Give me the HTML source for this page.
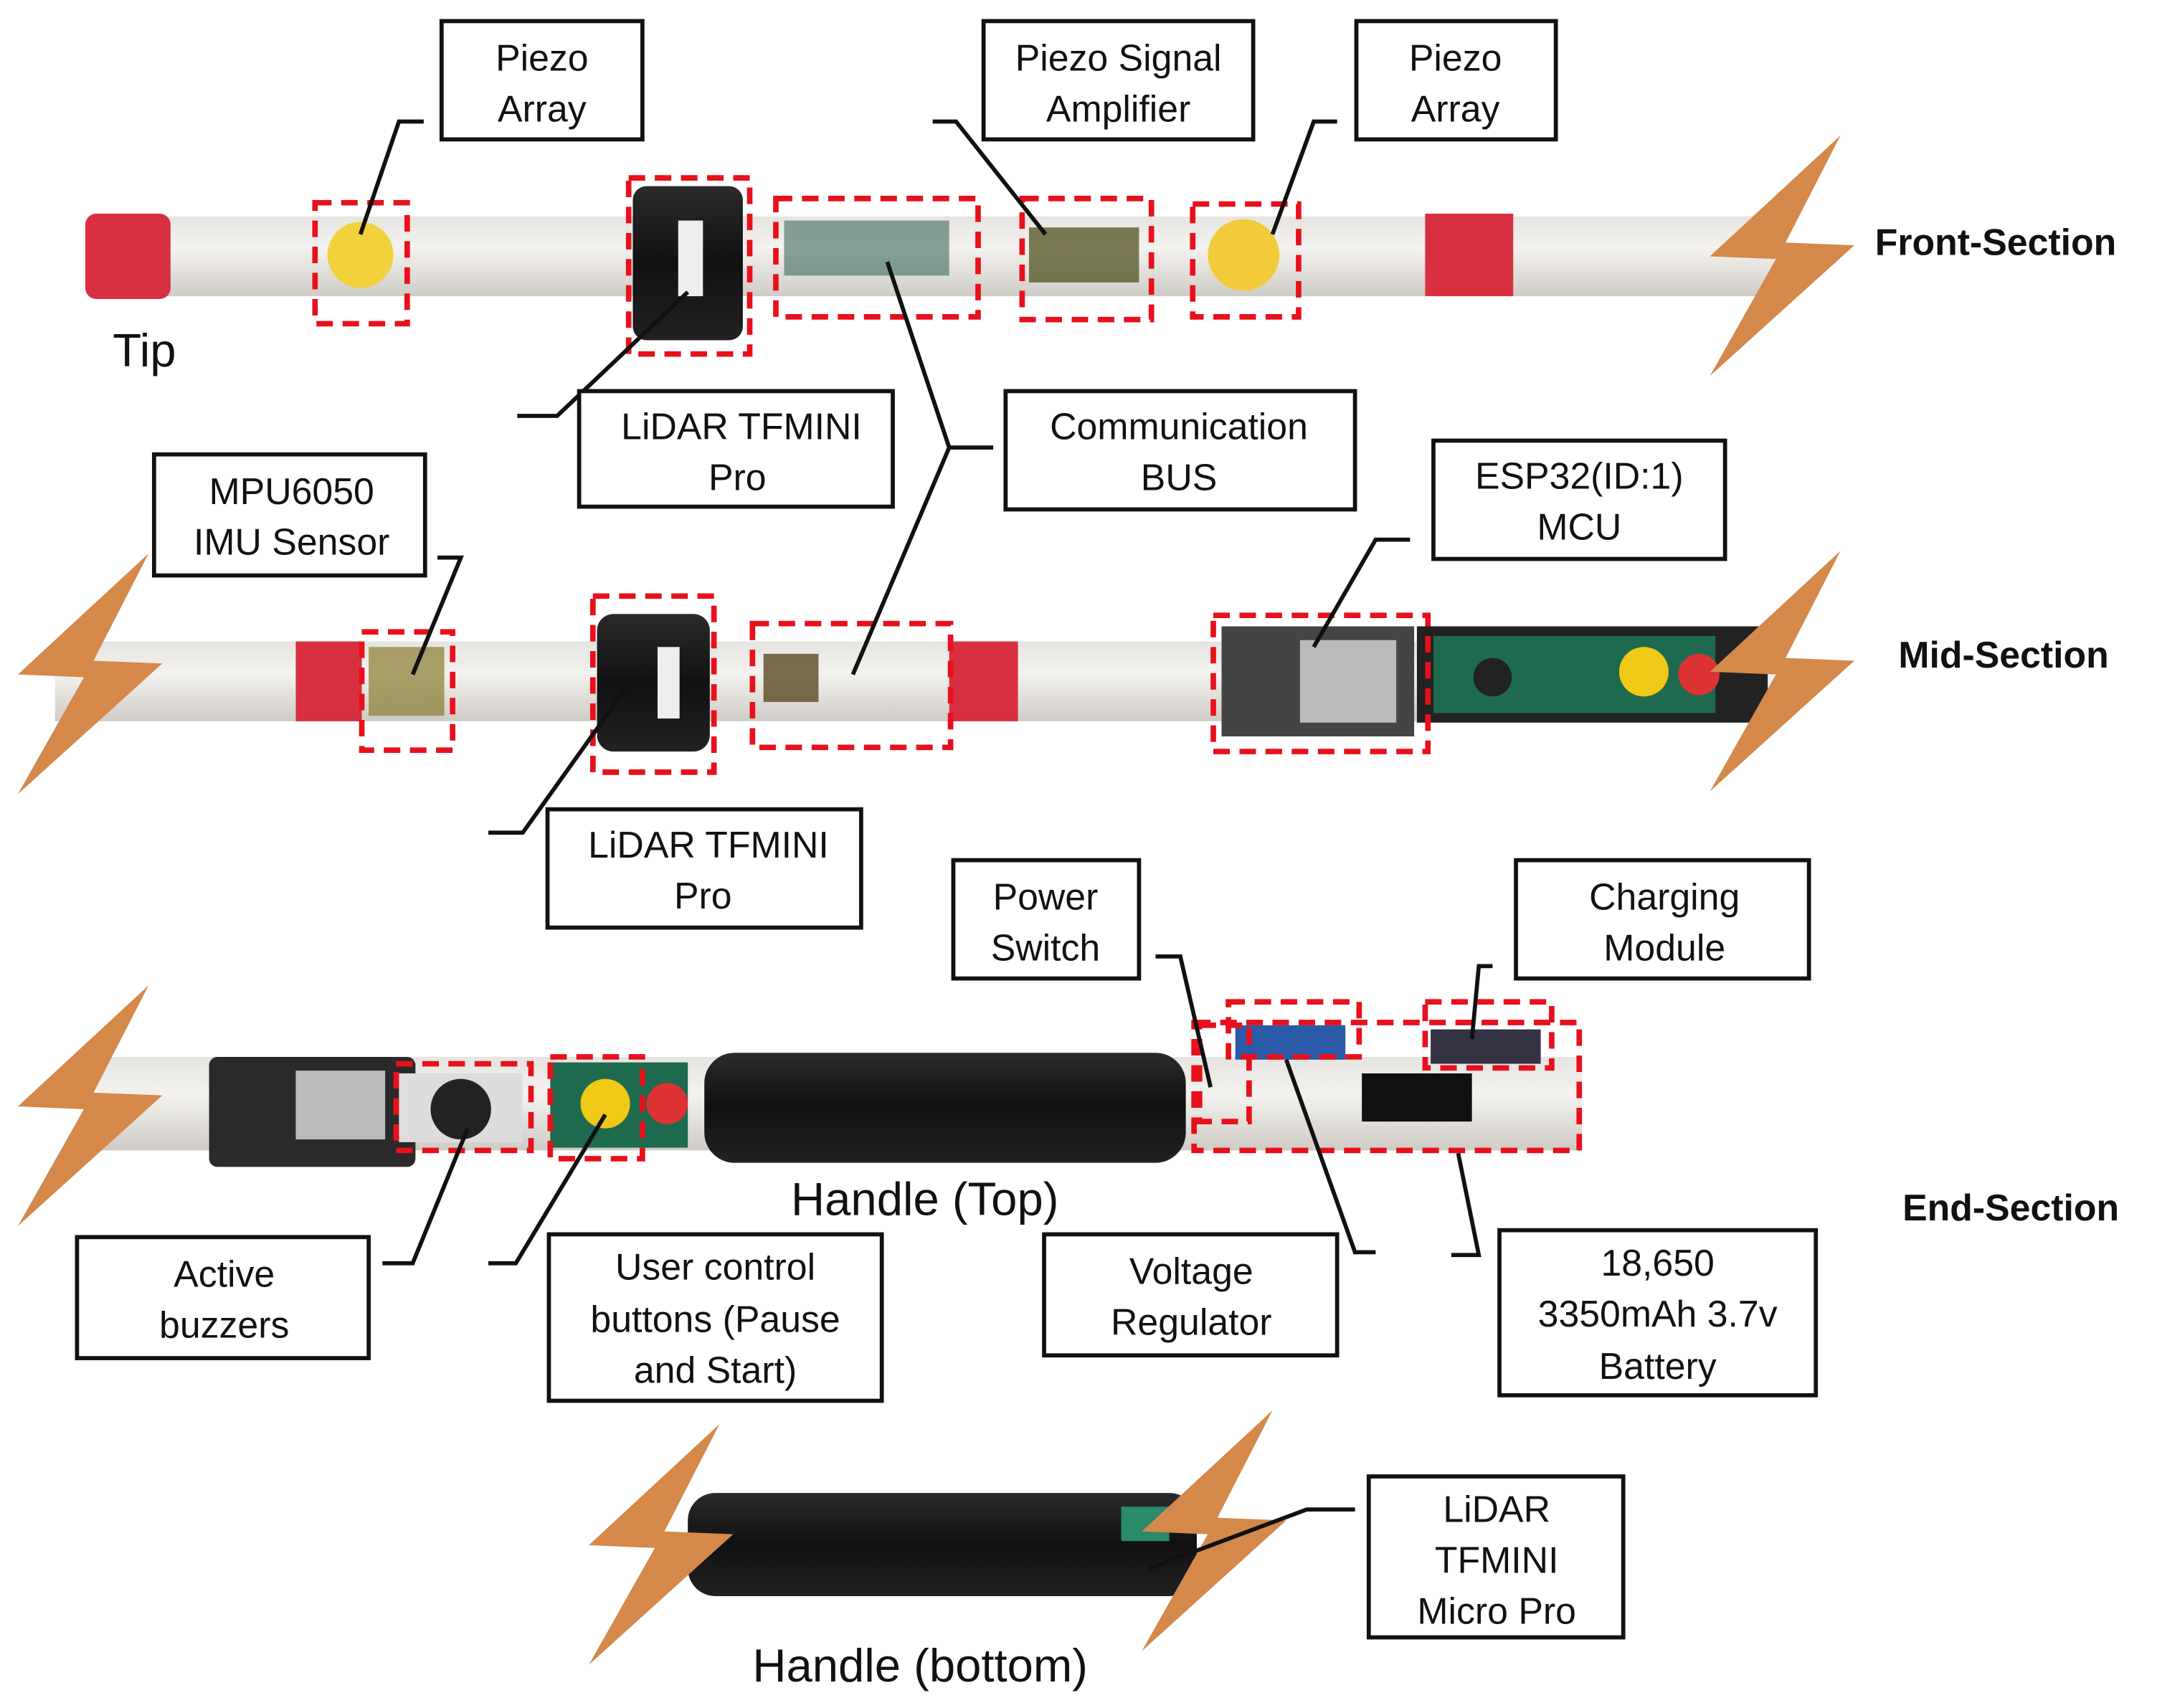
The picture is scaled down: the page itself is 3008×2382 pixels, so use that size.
<!DOCTYPE html>
<html><head><meta charset="utf-8"><style>
html,body{margin:0;padding:0;background:#fff;}
svg{display:block;}
text{font-family:"Liberation Sans",sans-serif;fill:#111;}
</style></head><body>
<svg width="3008" height="2382" viewBox="0 0 1568 1241" xmlns="http://www.w3.org/2000/svg">
<defs>
<polygon id="bolt" points="95,0 0,88 48,90 0,175 105,80 55,78" fill="#d4894b"/>
<linearGradient id="tube" x1="0" y1="0" x2="0" y2="1"><stop offset="0" stop-color="#e6e4e0"/><stop offset="0.4" stop-color="#f4f2ee"/><stop offset="1" stop-color="#cfccc6"/></linearGradient>
<linearGradient id="blk" x1="0" y1="0" x2="0" y2="1"><stop offset="0" stop-color="#2a2a2a"/><stop offset="0.5" stop-color="#111"/><stop offset="1" stop-color="#222"/></linearGradient>
</defs>
<g id="row1">
<rect x="100" y="157" width="1190" height="58" fill="url(#tube)"/>
<rect x="62" y="155" width="62" height="62" rx="8" fill="#d8303f"/>
<rect x="1036" y="155" width="64" height="60" fill="#d8303f"/>
<rect x="460" y="135" width="80" height="112" rx="10" fill="url(#blk)"/>
<rect x="493" y="160" width="18" height="55" fill="#eee"/>
<circle cx="262" cy="185" r="24" fill="#f2d23c"/>
<circle cx="904" cy="185" r="26" fill="#f2cb3a"/>
<rect x="570" y="160" width="120" height="40" fill="#3a6a5a" opacity="0.6"/>
<rect x="748" y="165" width="80" height="40" fill="#5a5a2a" opacity="0.8"/>
<g fill="none" stroke="#e8101c" stroke-width="4" stroke-dasharray="12,7">
<rect x="229" y="147" width="67" height="88"/><rect x="457" y="129" width="88" height="128"/><rect x="564" y="144" width="147" height="86"/><rect x="743" y="144" width="94" height="88"/><rect x="867" y="148" width="77" height="82"/>
</g>
<use href="#bolt" transform="translate(1243,98)"/>
</g>
<g id="row2">
<rect x="40" y="466" width="1250" height="58" fill="url(#tube)"/>
<rect x="215" y="466" width="48" height="58" fill="#d8303f"/>
<rect x="690" y="466" width="50" height="58" fill="#d8303f"/>
<rect x="1030" y="455" width="255" height="70" fill="#222"/>
<rect x="1042" y="462" width="205" height="56" fill="#1e6a4e"/>
<circle cx="1195" cy="488" r="18" fill="#f0c816"/><circle cx="1235" cy="490" r="15" fill="#d33"/>
<circle cx="1085" cy="492" r="14" fill="#222"/>
<rect x="434" y="446" width="82" height="100" rx="12" fill="url(#blk)"/>
<rect x="478" y="470" width="16" height="52" fill="#eee"/>
<rect x="888" y="455" width="140" height="80" fill="#444"/><rect x="945" y="465" width="70" height="60" fill="#bbb"/>
<rect x="268" y="470" width="55" height="50" fill="#8a7a30" opacity="0.7"/>
<rect x="555" y="475" width="40" height="35" fill="#5a4a20" opacity="0.8"/>
<g fill="none" stroke="#e8101c" stroke-width="4" stroke-dasharray="12,7">
<rect x="263" y="459" width="66" height="86"/><rect x="431" y="433" width="88" height="128"/><rect x="547" y="453" width="144" height="90"/><rect x="882" y="447" width="156" height="99"/>
</g>
<use href="#bolt" transform="translate(13,402)"/>
<use href="#bolt" transform="translate(1243,400)"/>
</g>
<g id="row3">
<rect x="70" y="768" width="1080" height="68" fill="url(#tube)"/>
<rect x="152" y="768" width="150" height="80" rx="6" fill="#2a2a2a"/><rect x="215" y="778" width="65" height="50" fill="#bbb"/>
<rect x="290" y="780" width="90" height="50" fill="#ddd"/><circle cx="335" cy="806" r="22" fill="#222"/>
<rect x="400" y="772" width="100" height="62" fill="#1e6a4e"/>
<circle cx="440" cy="802" r="18" fill="#f0c816"/><circle cx="485" cy="802" r="15" fill="#d33"/>
<rect x="512" y="765" width="350" height="80" rx="22" fill="url(#blk)"/>
<rect x="990" y="780" width="80" height="35" fill="#111"/>
<rect x="898" y="745" width="80" height="25" fill="#2a5aa8"/>
<rect x="1040" y="748" width="80" height="25" fill="#334"/>
<g fill="none" stroke="#e8101c" stroke-width="4" stroke-dasharray="12,7">
<rect x="288" y="773" width="98" height="63"/><rect x="400" y="768" width="67" height="74"/><rect x="868" y="743" width="280" height="93"/><rect x="893" y="728" width="95" height="40"/><rect x="1036" y="728" width="92" height="48"/><rect x="872" y="745" width="36" height="70"/>
</g>
<use href="#bolt" transform="translate(13,716)"/>
</g>
<g id="row4">
<rect x="500" y="1085" width="370" height="75" rx="20" fill="url(#blk)"/>
<rect x="815" y="1095" width="35" height="25" fill="#2a8a6a"/>
<use href="#bolt" transform="translate(428,1035)"/>
<use href="#bolt" transform="translate(830,1025)"/>
</g>
<g fill="none" stroke="#111" stroke-width="3">
<polyline points="262,170 290,88 308,88"/>
<polyline points="376,302 405,302 500,212"/>
<polyline points="760,170 695,88 678,88"/>
<polyline points="925,170 955,88 972,88"/>
<polyline points="645,190 690,325 620,490"/>
<polyline points="690,325 722,325"/>
<polyline points="300,490 335,405 318,405"/>
<polyline points="355,605 380,605 455,500"/>
<polyline points="955,470 1000,392 1025,392"/>
<polyline points="278,918 300,918 340,820"/>
<polyline points="355,918 375,918 440,810"/>
<polyline points="1000,910 985,910 935,770"/>
<polyline points="840,695 858,695 880,790"/>
<polyline points="1070,755 1075,702 1085,702"/>
<polyline points="1055,912 1075,912 1060,838"/>
<polyline points="835,1140 950,1097 985,1097"/>
</g>
<g fill="#fff" stroke="#111" stroke-width="3">
<rect x="321" y="15" width="146" height="86"/><rect x="715" y="15" width="196" height="86"/><rect x="986" y="15" width="145" height="86"/>
<rect x="421" y="284" width="228" height="84"/><rect x="731" y="284" width="254" height="86"/>
<rect x="112" y="330" width="197" height="88"/><rect x="1042" y="320" width="212" height="86"/>
<rect x="398" y="588" width="228" height="86"/>
<rect x="693" y="625" width="135" height="86"/><rect x="1102" y="625" width="213" height="86"/>
<rect x="56" y="899" width="212" height="88"/><rect x="399" y="897" width="242" height="121"/><rect x="759" y="897" width="213" height="88"/><rect x="1090" y="894" width="230" height="120"/>
<rect x="995" y="1073" width="185" height="117"/>
</g>
<g font-size="27" text-anchor="middle">
<text x="394" y="51">Piezo</text><text x="394" y="88">Array</text>
<text x="813" y="51">Piezo Signal</text><text x="813" y="88">Amplifier</text>
<text x="1058" y="51">Piezo</text><text x="1058" y="88">Array</text>
<text x="539" y="319">LiDAR TFMINI</text><text x="536" y="356">Pro</text>
<text x="857" y="319">Communication</text><text x="857" y="356">BUS</text>
<text x="212" y="366">MPU6050</text><text x="212" y="403">IMU Sensor</text>
<text x="1148" y="355">ESP32(ID:1)</text><text x="1148" y="392">MCU</text>
<text x="515" y="623">LiDAR TFMINI</text><text x="511" y="660">Pro</text>
<text x="760" y="661">Power</text><text x="760" y="698">Switch</text>
<text x="1210" y="661">Charging</text><text x="1210" y="698">Module</text>
<text x="163" y="935">Active</text><text x="163" y="972">buzzers</text>
<text x="520" y="930">User control</text><text x="520" y="968">buttons (Pause</text><text x="520" y="1005">and Start)</text>
<text x="866" y="933">Voltage</text><text x="866" y="970">Regulator</text>
<text x="1205" y="927">18,650</text><text x="1205" y="964">3350mAh 3.7v</text><text x="1205" y="1002">Battery</text>
<text x="1088" y="1106">LiDAR</text><text x="1088" y="1143">TFMINI</text><text x="1088" y="1180">Micro Pro</text>
</g>
<text x="82" y="266" font-size="34">Tip</text>
<text x="575" y="883" font-size="34">Handle (Top)</text>
<text x="547" y="1222" font-size="34">Handle (bottom)</text>
<g font-size="27" font-weight="bold">
<text x="1363" y="185">Front-Section</text>
<text x="1380" y="485">Mid-Section</text>
<text x="1383" y="887">End-Section</text>
</g>
</svg>
</body></html>
